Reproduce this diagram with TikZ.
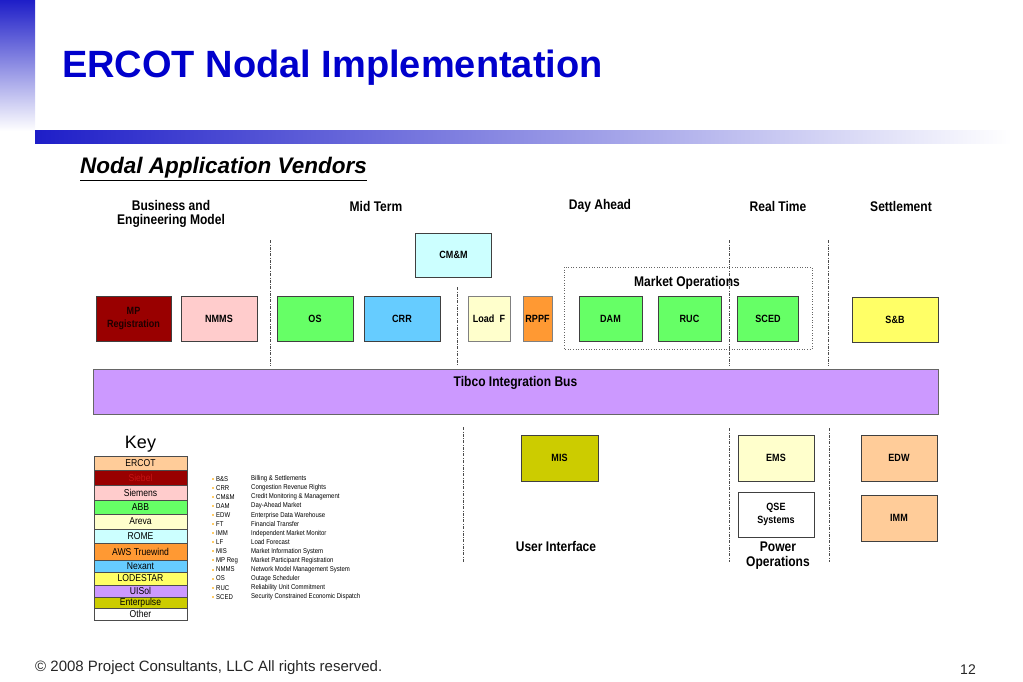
\documentclass[tikz,border=0pt]{standalone}
\usepackage{fontspec}
\setmainfont{Liberation Sans}
\newfontfamily\narrowsf{Liberation Sans}[FakeStretch=0.86]
\definecolor{titleblue}{RGB}{0,0,204}
\definecolor{barblue}{RGB}{30,30,200}
\definecolor{ercot}{RGB}{255,204,153}
\definecolor{siebel}{RGB}{153,0,0}
\definecolor{siebeltext}{RGB}{200,20,20}
\definecolor{mpregtext}{RGB}{30,0,0}
\definecolor{siemens}{RGB}{255,204,204}
\definecolor{abb}{RGB}{102,255,102}
\definecolor{areva}{RGB}{255,255,204}
\definecolor{rome}{RGB}{204,255,255}
\definecolor{aws}{RGB}{255,153,51}
\definecolor{nexant}{RGB}{102,204,255}
\definecolor{lodestar}{RGB}{255,255,102}
\definecolor{uisol}{RGB}{204,153,255}
\definecolor{enterpulse}{RGB}{204,204,0}
\definecolor{bulletcol}{RGB}{255,204,102}
\newcommand\boxfont{\narrowsf\bfseries\fontsize{10.5}{13}\selectfont}
\newcommand\headfont{\narrowsf\bfseries\fontsize{14}{14.5}\selectfont}
\begin{document}
\begin{tikzpicture}[x=1pt, y=-1pt,
  vendor/.style={draw=black!75, line width=0.7pt, minimum width=#1, minimum height=45pt, inner sep=0pt, font=\boxfont, align=center},
  vendor/.default=76pt,
  header/.style={font=\headfont, align=center, inner sep=0pt},
  divider/.style={gray!60!black, line width=0.8pt, dash pattern=on 3pt off 1.5pt on 0.6pt off 1.5pt},
  keycell/.style={draw=black!70, line width=0.5pt, minimum width=93pt, inner sep=0pt, font=\narrowsf\fontsize{10}{10}\selectfont},
  abbr/.style={anchor=west, inner sep=0pt, font=\narrowsf\fontsize{7}{7}\selectfont}]
  \useasboundingbox (0,0) rectangle (1023,682);
  % title and bars
  \shade[top color=barblue, bottom color=white] (0,0) rectangle (35,131);
  \shade[left color=barblue, right color=white] (35,131) rectangle (1012,144);
  \node[anchor=base west, inner sep=0pt, text=titleblue, font=\bfseries\fontsize{38}{40}\selectfont] (title) at (62,78) {ERCOT Nodal Implementation};
  \node[anchor=base west, inner sep=0pt, font=\bfseries\itshape\fontsize{22.5}{24}\selectfont] (subtitle) at (80,174) {\underline{Nodal Application Vendors}};
  % column headers
  \node[header] (hbem) at (171,214) {Business and\\Engineering Model};
  \node[header] (hmid) at (376,206) {Mid Term};
  \node[header] (hday) at (600,206) {Day Ahead};
  \node[header] (hreal) at (778,206) {Real Time};
  \node[header] (hsett) at (901,206) {Settlement};
  % dividers
  \draw[divider] (270,240) -- (270,366);
  \draw[divider] (457,287) -- (457,366);
  \draw[divider] (729,240) -- (729,366);
  \draw[divider] (828,240) -- (828,366);
  \draw[divider] (463,427) -- (463,562);
  \draw[divider] (729,428) -- (729,562);
  \draw[divider] (829,428) -- (829,562);
  % market operations group
  \draw[gray!80!black, line width=0.6pt, dotted] (564,267) rectangle (812,349);
  \node[font=\headfont, inner sep=0pt] (mktops) at (687,283) {Market Operations};
  % vendor boxes
  \node[vendor=75pt, fill=siebel, text=mpregtext] (mpreg) at (133.5,318.5) {MP\\Registration};
  \node[vendor, fill=siemens] (nmms) at (219,318.5) {NMMS};
  \node[vendor, fill=abb] (os) at (315,318.5) {OS};
  \node[vendor, fill=nexant] (crr) at (402,318.5) {CRR};
  \node[vendor, fill=rome, minimum height=44pt] (cmm) at (453.5,255) {CM\&M};
  \node[vendor=42pt, fill=areva, draw=gray] (loadf) at (489,318.5) {Load\enspace F};
  \node[vendor=29pt, fill=aws, draw=gray] (rppf) at (537.5,318.5) {RPPF};
  \node[vendor=63pt, fill=abb] (dam) at (610.5,318.5) {DAM};
  \node[vendor=63pt, fill=abb] (ruc) at (689.5,318.5) {RUC};
  \node[vendor=61pt, fill=abb] (sced) at (768,318.5) {SCED};
  \node[vendor=86pt, fill=lodestar] (sb) at (895,319.5) {S\&B};
  % integration bus
  \node[draw=black!60, line width=0.7pt, fill=uisol, minimum width=845pt, minimum height=45pt, inner sep=0pt] (tibco) at (515.5,391.5) {};
  \node[font=\headfont, inner sep=0pt] (tibcolabel) at (515.5,383) {Tibco Integration Bus};
  % lower row
  \node[vendor=77pt, fill=enterpulse, minimum height=46pt] (mis) at (559.5,458) {MIS};
  \node[vendor, fill=areva, minimum height=46pt] (ems) at (776,458) {EMS};
  \node[vendor, fill=white] (qse) at (776,514.5) {QSE\\Systems};
  \node[vendor, fill=ercot, minimum height=46pt] (edw) at (899,458) {EDW};
  \node[vendor, fill=ercot, minimum height=46pt] (imm) at (899,518) {IMM};
  \node[header] (userif) at (556,546) {User Interface};
  \node[header] (powerops) at (778,555.5) {Power\\Operations};
  % key
  \node[inner sep=0pt, font=\fontsize{18}{18}\selectfont] (keytitle) at (140.5,444) {Key};
  \foreach \t/\b/\col/\tc/\txt [count=\i] in {
      456/470/ercot/black/ERCOT, 470/485/siebel/siebeltext/Siebel,
      485/500/siemens/black/Siemens, 500/514/abb/black/ABB,
      514/529/areva/black/Areva, 529/543/rome/black/ROME,
      543/560/aws/black/AWS Truewind, 560/572/nexant/black/Nexant,
      572/585/lodestar/black/LODESTAR, 585/597/uisol/black/UISol,
      597/608/enterpulse/black/Enterpulse, 608/620/white/black/Other}
    \node[keycell, fill=\col, text=\tc, minimum height={(\b-\t)*1pt}] (key\i) at (140.5,{(\t+\b)/2}) {\txt};
  % abbreviations
  \foreach \ab/\desc [count=\i from 0] in {
      B\&S/Billing \& Settlements, CRR/Congestion Revenue Rights,
      CM\&M/Credit Monitoring \& Management, DAM/Day-Ahead Market,
      EDW/Enterprise Data Warehouse, FT/Financial Transfer,
      IMM/Independent Market Monitor, LF/Load Forecast,
      MIS/Market Information System, MP Reg/Market Participant Registration,
      NMMS/Network Model Management System, OS/Outage Scheduler,
      RUC/Reliability Unit Commitment, SCED/Security Constrained Economic Dispatch}
  {
    \fill[bulletcol] (212,{479+9.05*\i-1}) rectangle ++(2,2);
    \node[abbr] (ab\i) at (216,{479+9.05*\i}) {\ab};
    \node[abbr] (desc\i) at (251,{479+9.05*\i}) {\desc};
  }
  % footer
  \node[anchor=base west, inner sep=0pt, text=black!85, font=\fontsize{15}{15}\selectfont] (copyright) at (35,671) {© 2008 Project Consultants, LLC All rights reserved.};
  \node[anchor=base east, inner sep=0pt, text=black!85, font=\fontsize{14}{14}\selectfont] (pagenum) at (976,674) {12};
\end{tikzpicture}
\end{document}
